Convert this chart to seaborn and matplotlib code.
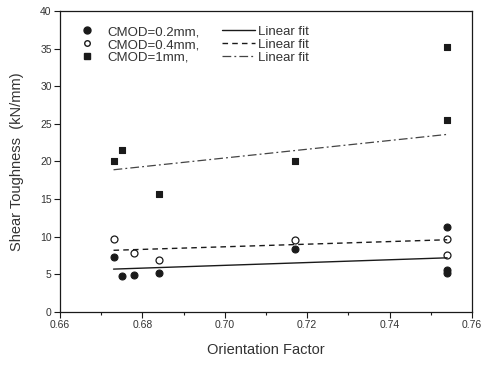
import matplotlib
matplotlib.use("Agg")
import matplotlib.pyplot as plt
from matplotlib.lines import Line2D
from matplotlib.ticker import MultipleLocator
import seaborn as sns
import pandas as pd
import numpy as np

sns.set_style("white")
plt.rcParams['font.family'] = ['Liberation Sans', 'DejaVu Sans']

# data
x_02 = [0.673, 0.675, 0.678, 0.684, 0.717, 0.754, 0.754, 0.754]
y_02 = [7.35, 4.8, 4.9, 5.2, 8.4, 11.3, 5.6, 5.2]
x_04 = [0.673, 0.678, 0.684, 0.717, 0.754, 0.754]
y_04 = [9.7, 7.8, 6.9, 9.6, 9.7, 7.6]
x_1 = [0.673, 0.675, 0.684, 0.717, 0.754, 0.754]
y_1 = [20.1, 21.5, 15.7, 20.1, 35.2, 25.5]

# linear fit endpoints
fit_x = [0.673, 0.754]
fit_02 = [5.7, 7.2]
fit_04 = [8.2, 9.6]
fit_1 = [18.9, 23.6]

labels = ["CMOD=0.2mm,", "CMOD=0.4mm,", "CMOD=1mm,"]
fit_label = "Linear fit"

ink = "#1a1a1a"
txt = "#333333"
fig = plt.figure(figsize=(4.85, 3.65), dpi=100)
ax = fig.add_axes([0.1237, 0.1452, 0.973 - 0.1237, 0.9699 - 0.1452])

ms = 25
sns.scatterplot(x=x_02, y=y_02, ax=ax, marker='o', color=ink, edgecolor=ink, s=ms, linewidth=0.8)
sns.scatterplot(x=x_04, y=y_04, ax=ax, marker='o', facecolor='white', edgecolor=ink, s=ms, linewidth=0.9)
sns.scatterplot(x=x_1, y=y_1, ax=ax, marker='s', color=ink, edgecolor=ink, s=ms, linewidth=0.8)

ls02 = '-'
ls04 = (0, (4, 3))
ls1 = (0, (7, 2.5, 1.5, 2.5))
sns.lineplot(x=fit_x, y=fit_02, ax=ax, color=ink, lw=1.0, linestyle=ls02)
sns.lineplot(x=fit_x, y=fit_04, ax=ax, color=ink, lw=1.0, linestyle=ls04)
sns.lineplot(x=fit_x, y=fit_1, ax=ax, color="#444444", lw=0.9, linestyle=ls1)

ax.set_xlim(0.66, 0.76)
ax.set_ylim(0, 40)
ax.xaxis.set_major_locator(MultipleLocator(0.02))
ax.xaxis.set_minor_locator(MultipleLocator(0.01))
ax.yaxis.set_major_locator(MultipleLocator(5))
ax.set_xticklabels([f"{v:.2f}" for v in ax.get_xticks()])
ax.tick_params(axis='both', which='major', direction='out', length=4, width=0.8,
               labelsize=7.5, colors=ink, labelcolor=txt, pad=2)
ax.tick_params(axis='x', which='minor', direction='out', length=2.5, width=0.8, colors=ink)
ax.xaxis.set_ticks_position('bottom')
ax.yaxis.set_ticks_position('left')
for sp in ax.spines.values():
    sp.set_color(ink)
    sp.set_linewidth(0.9)
    sp.set_visible(True)

ax.set_xlabel("Orientation Factor", fontsize=10.5, color=txt, labelpad=9)
ax.set_ylabel("Shear Toughness  (kN/mm)", fontsize=10.5, color=txt)
ax.yaxis.set_label_coords(-0.087, 0.5)

h_markers = [
    Line2D([], [], marker='o', linestyle='none', color=ink, markersize=5),
    Line2D([], [], marker='o', linestyle='none', markerfacecolor='white', markeredgecolor=ink, markersize=4),
    Line2D([], [], marker='s', linestyle='none', color=ink, markersize=4.5),
]
h_lines = [
    Line2D([], [], color=ink, lw=1.0, linestyle=ls02),
    Line2D([], [], color=ink, lw=1.0, linestyle=ls04),
    Line2D([], [], color="#444444", lw=0.9, linestyle=ls1),
]
leg = ax.legend(h_markers + h_lines, labels + [fit_label] * 3, ncol=2,
                loc='upper left', bbox_to_anchor=(-0.003, 0.99), frameon=False,
                fontsize=9.5, handlelength=2.5, handletextpad=0.25, columnspacing=1.7,
                labelspacing=0.05, labelcolor=txt)

fig.savefig("out.png", dpi=100)
